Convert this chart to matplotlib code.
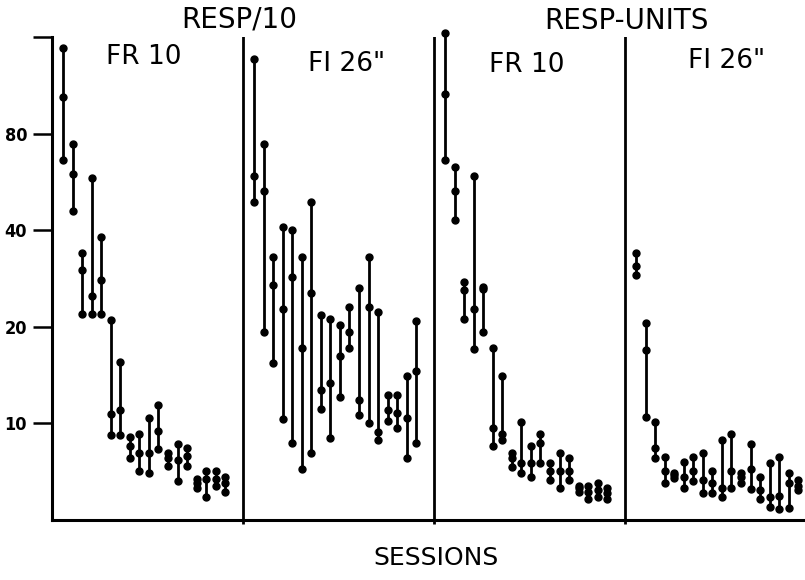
import numpy as np
import matplotlib
matplotlib.use("Agg")
import matplotlib.pyplot as plt

# session ranges: top, median, bottom of each bar
# RESP/10, FR 10
resp_fr_top = [148, 74, 34, 58, 38, 21, 15.5, 9.1, 9.3, 10.4, 11.4, 8.1, 8.6, 8.4, 6.7, 7.1, 7.1, 6.8]
resp_fr_mid = [104, 60, 30, 25, 28, 10.7, 11, 8.5, 8.1, 8.1, 9.5, 7.8, 7.7, 7.9, 6.5, 6.7, 6.7, 6.5]
resp_fr_low = [66, 46, 22, 22, 22, 9.2, 9.2, 7.8, 7.1, 7.0, 8.3, 7.35, 6.6, 7.35, 6.3, 5.9, 6.4, 6.1]

# RESP/10, FI 26"
resp_fi_top = [137, 74, 33, 41, 40, 33, 49, 21.7, 21.2, 20.3, 23, 26.5, 33, 22.2, 12.3, 12.3, 14.1, 20.9]
resp_fi_mid = [59, 53, 27, 22.8, 28.5, 17.2, 25.4, 12.7, 13.4, 16.2, 19.3, 11.8, 23, 9.4, 11.0, 10.8, 10.4, 14.6]
resp_fi_low = [49, 19.2, 15.4, 10.3, 8.7, 7.2, 8.1, 11.1, 9.0, 12.1, 17.2, 10.6, 10, 8.85, 10.2, 9.65, 7.8, 8.7]

# RESP-UNITS, FR 10
unit_fr_top = [165, 63, 27.5, 59, 26.7, 17.2, 14.1, 8.1, 10.1, 8.5, 9.3, 7.5, 8.1, 7.8, 6.4, 6.4, 6.5, 6.3]
unit_fr_mid = [106, 53, 26.1, 22.8, 26.3, 9.7, 9.3, 7.8, 7.5, 7.5, 8.7, 7.1, 7.1, 7.1, 6.3, 6.1, 6.2, 6.05]
unit_fr_low = [66, 43, 21.1, 17.1, 19.2, 8.5, 8.85, 7.3, 7.0, 6.8, 7.5, 6.65, 6.3, 6.65, 6.1, 5.8, 5.9, 5.8]

# RESP-UNITS, FI 26"
unit_fi_top = [34, 20.6, 10.1, 7.85, 7.0, 7.6, 7.85, 8.1, 7.1, 8.9, 9.3, 7.0, 8.6, 6.8, 7.55, 7.85, 7.0, 6.65]
unit_fi_mid = [31, 16.9, 8.4, 7.1, 6.9, 6.8, 7.1, 6.65, 6.5, 6.3, 7.1, 6.8, 7.2, 6.2, 5.9, 5.95, 6.5, 6.4]
unit_fi_low = [29, 10.5, 7.8, 6.5, 6.75, 6.3, 6.6, 6.05, 6.05, 5.9, 6.3, 6.5, 6.25, 5.8, 5.5, 5.4, 5.45, 6.2]

panels = [
    (resp_fr_top, resp_fr_mid, resp_fr_low),
    (resp_fi_top, resp_fi_mid, resp_fi_low),
    (unit_fr_top, unit_fr_mid, unit_fr_low),
    (unit_fi_top, unit_fi_mid, unit_fi_low),
]

y_ticks = [10, 20, 40, 80, 160]
y_tick_labels = ["10", "20", "40", "80", ""]

fig = plt.figure(figsize=(8.05, 5.8), dpi=100)
ax = fig.add_axes([52 / 805, 60 / 580, 753 / 805, 483 / 580])

ink = "black"
for p, (top, mid, low) in enumerate(panels):
    x = p * 20 + 1.15 + np.arange(len(top))
    ax.vlines(x, low, top, color=ink, lw=2.0, clip_on=False)
    for vals in (top, mid, low):
        ax.plot(x, vals, "o", color=ink, ms=5, clip_on=False)

# panel dividers
for xd in (20, 40, 60):
    ax.axvline(xd, color=ink, lw=2.0)

ax.set_yscale("log", base=2)
ax.set_ylim(5, 160)
ax.set_xlim(0, 753 / 9.55)

ax.set_yticks(y_ticks)
ax.set_yticklabels(y_tick_labels)
ax.yaxis.set_minor_locator(matplotlib.ticker.NullLocator())
ax.tick_params(axis="y", length=14, width=1.8, pad=4, direction="out")
for lab in ax.get_yticklabels():
    lab.set_fontsize(13)
    lab.set_fontweight("bold")
    lab.set_fontstretch("condensed")

ax.set_xticks([20, 40, 60])
ax.set_xticklabels([])
ax.tick_params(axis="x", length=3, width=2, direction="out")

ax.spines["top"].set_visible(False)
ax.spines["right"].set_visible(False)
ax.spines["left"].set_linewidth(2.2)
ax.spines["bottom"].set_linewidth(2.2)

def label(px, py, s, size):
    fig.text(px / 805, 1 - py / 580, s, ha="center", va="center", fontsize=size)

label(239, 20, "RESP/10", 20)
label(626, 21, "RESP-UNITS", 20)
label(144, 57, "FR 10", 19)
label(347, 64, "FI 26\"", 19)
label(527, 65, "FR 10", 19)
label(727, 61, "FI 26\"", 19)
label(436, 558, "SESSIONS", 18)

fig.savefig("out.png", dpi=100)
